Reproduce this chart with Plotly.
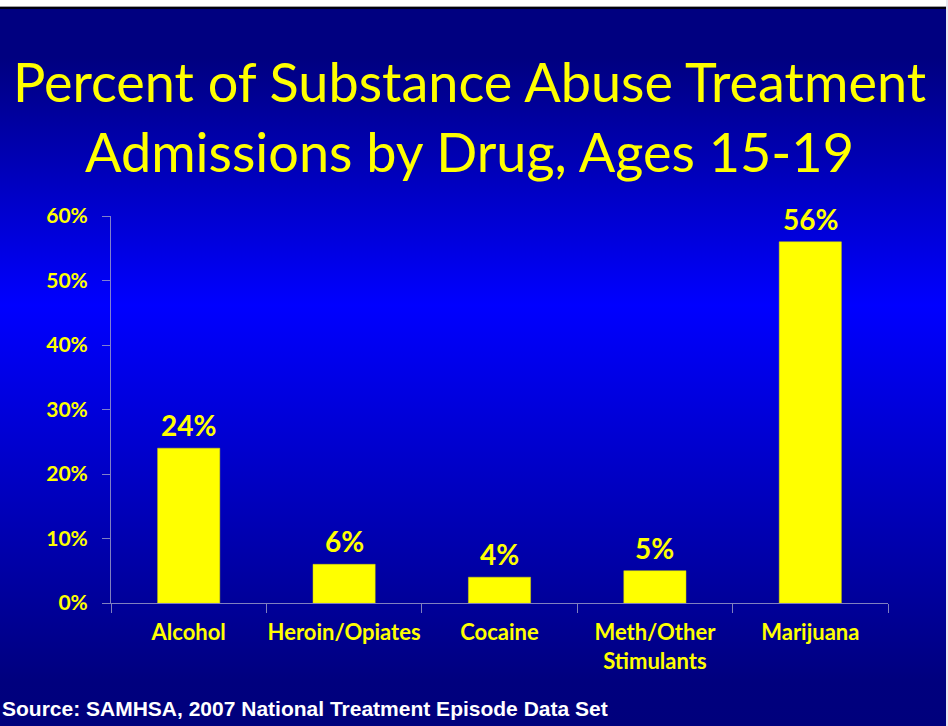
import base64
import plotly.graph_objects as go

# Admissions share by primary drug, ages 15-19
drugs = ["Alcohol", "Heroin/Opiates", "Cocaine", "Meth/Other<br>Stimulants", "Marijuana"]
percent = [24, 6, 4, 5, 56]
y_ticks = [0, 10, 20, 30, 40, 50, 60]
y_tick_labels = [f"{v}%" for v in y_ticks]

title_lines = ["Percent of Substance Abuse Treatment", "Admissions by Drug, Ages 15-19"]
source_note = "Source: SAMHSA, 2007 National Treatment Episode Data Set"

W, H = 948, 726
ML, MR, MT, MB = 111, 60, 216, 123
PW, PH = W - ML - MR, H - MT - MB

YELLOW = "#FFFF00"
AXIS = "rgba(160,160,200,0.8)"

# slide background: navy -> bright blue -> navy vertical gradient
svg = f"""<svg xmlns='http://www.w3.org/2000/svg' width='{W}' height='{H}' viewBox='0 0 {W} {H}' preserveAspectRatio='none'>
<defs><linearGradient id='g' x1='0' y1='0' x2='0' y2='1'>
<stop offset='0' stop-color='#000080'/>
<stop offset='0.08' stop-color='#000080'/>
<stop offset='0.42' stop-color='#0000FF'/>
<stop offset='0.94' stop-color='#00007E'/>
<stop offset='1' stop-color='#00007C'/>
</linearGradient></defs>
<rect x='0' y='0' width='{W}' height='{H}' fill='url(#g)'/>
<rect x='0' y='0' width='{W}' height='6' fill='#ffffff'/>
<rect x='0' y='6' width='{W}' height='1' fill='#a0a0a0'/>
<rect x='0' y='7' width='{W}' height='2' fill='#000010'/>
<rect x='{W-2}' y='0' width='2' height='{H}' fill='#e8e8f0'/>
</svg>"""
bg_uri = "data:image/svg+xml;base64," + base64.b64encode(svg.encode()).decode()

fig = go.Figure(
    go.Bar(
        x=drugs,
        y=percent,
        marker=dict(color=YELLOW, line=dict(color="#d8d800", width=0.5)),
        width=0.4,
        hoverinfo="skip",
    )
)

# value labels above each bar
for d, v in zip(drugs, percent):
    fig.add_annotation(
        x=d, y=v, text=f"{v}%", showarrow=False, yanchor="bottom", yshift=4,
        font=dict(family="Lato", size=28, color=YELLOW, weight="bold"),
    )

def px_y(py):
    return (MT + PH - py) / PH

def px_x(px):
    return (px - ML) / PW

# two-line slide title
for line, yc in zip(title_lines, [82, 151]):
    fig.add_annotation(
        xref="paper", yref="paper", x=px_x(469), y=px_y(yc), text=line,
        showarrow=False, xanchor="center", yanchor="middle",
        font=dict(family="Lato", size=54, color=YELLOW),
    )

fig.add_annotation(
    xref="paper", yref="paper", x=px_x(0), y=px_y(708), text=source_note,
    showarrow=False, xanchor="left", yanchor="middle",
    font=dict(family="Liberation Sans", size=21, color="white", weight="bold"),
)

fig.add_layout_image(
    source=bg_uri, xref="paper", yref="paper",
    x=-ML / PW, y=1 + MT / PH, sizex=W / PW, sizey=H / PH,
    xanchor="left", yanchor="top", sizing="stretch", layer="below",
)

fig.update_layout(
    width=W, height=H,
    margin=dict(l=ML, r=MR, t=MT, b=MB, pad=0),
    paper_bgcolor="#000080", plot_bgcolor="rgba(0,0,0,0)",
    showlegend=False, bargap=0.6,
)
fig.update_xaxes(
    showline=True, linecolor=AXIS, linewidth=1,
    ticks="outside", ticklen=9, tickcolor=AXIS, tickson="boundaries",
    ticklabelstandoff=10, tickangle=0, automargin=False,
    tickfont=dict(family="Lato", size=22, color=YELLOW, weight="bold"),
    showgrid=False, fixedrange=True,
)
fig.update_yaxes(
    range=[0, 60], tickvals=y_ticks, ticktext=y_tick_labels,
    showline=True, linecolor=AXIS, linewidth=1,
    ticks="outside", ticklen=8, tickcolor=AXIS, ticklabelstandoff=10,
    automargin=False,
    tickfont=dict(family="Lato", size=21, color=YELLOW, weight="bold"),
    showgrid=False, zeroline=False, fixedrange=True,
)

fig.write_html("out.html", config={"displayModeBar": False})
